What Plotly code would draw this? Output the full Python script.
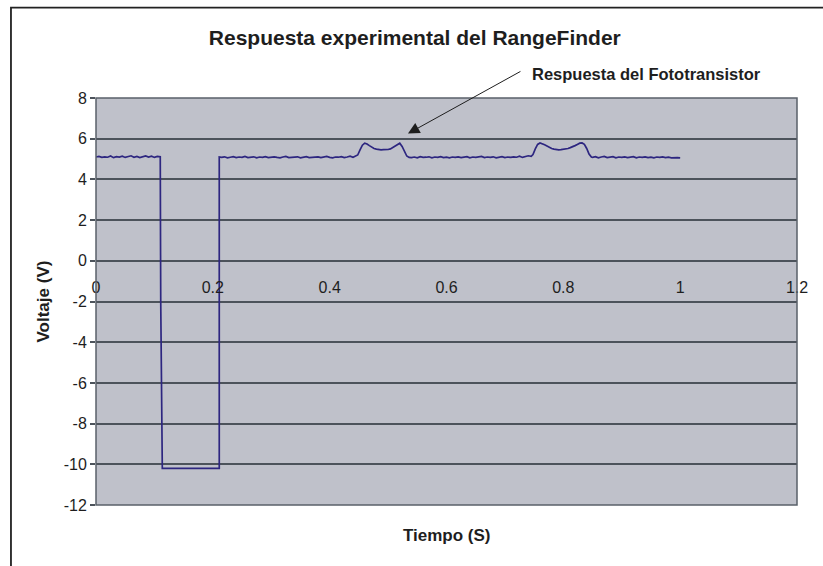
import plotly.graph_objects as go

# Sampled phototransistor output (time in s, voltage in V)
t_pre = [0.000, 0.005, 0.010, 0.015, 0.020, 0.025, 0.030, 0.035, 0.040, 0.045,
         0.050, 0.055, 0.060, 0.065, 0.070, 0.075, 0.080, 0.085, 0.090, 0.095,
         0.100, 0.105, 0.110]
v_pre = [5.10, 5.13, 5.08, 5.11, 5.09, 5.15, 5.07, 5.12, 5.10, 5.14,
         5.08, 5.11, 5.16, 5.09, 5.13, 5.07, 5.12, 5.15, 5.10, 5.14,
         5.08, 5.13, 5.11]

t_pulse = [0.1108, 0.1135, 0.2110]
v_pulse = [-2.0, -10.2, -10.2]

t_mid = [0.2110,
         0.215, 0.220, 0.225, 0.230, 0.235, 0.240, 0.245, 0.250, 0.255, 0.260,
         0.265, 0.270, 0.275, 0.280, 0.285, 0.290, 0.295, 0.300, 0.305, 0.310,
         0.315, 0.320, 0.325, 0.330, 0.335, 0.340, 0.345, 0.350, 0.355, 0.360,
         0.365, 0.370, 0.375, 0.380, 0.385, 0.390, 0.395, 0.400, 0.405, 0.410,
         0.415, 0.420, 0.425, 0.430, 0.435, 0.440, 0.445]
v_mid = [5.10,
         5.08, 5.11, 5.06, 5.09, 5.12, 5.07, 5.10, 5.08, 5.13, 5.07,
         5.09, 5.11, 5.06, 5.10, 5.08, 5.12, 5.07, 5.09, 5.11, 5.08,
         5.06, 5.10, 5.13, 5.07, 5.09, 5.08, 5.11, 5.06, 5.10, 5.12,
         5.07, 5.09, 5.08, 5.11, 5.07, 5.10, 5.13, 5.08, 5.06, 5.10,
         5.09, 5.12, 5.07, 5.10, 5.14, 5.09, 5.15]

t_bump1 = [0.448, 0.452, 0.456, 0.460, 0.464, 0.468, 0.472, 0.476, 0.480, 0.484,
           0.488, 0.492, 0.496, 0.500, 0.504, 0.508, 0.512, 0.516, 0.520, 0.524,
           0.528, 0.532, 0.536]
v_bump1 = [5.20, 5.45, 5.68, 5.78, 5.74, 5.66, 5.58, 5.52, 5.49, 5.46,
           5.45, 5.46, 5.45, 5.47, 5.50, 5.56, 5.64, 5.72, 5.78, 5.62,
           5.38, 5.15, 5.08]

t_base2 = [0.540, 0.545, 0.550, 0.555, 0.560, 0.565, 0.570, 0.575, 0.580, 0.585,
           0.590, 0.595, 0.600, 0.605, 0.610, 0.615, 0.620, 0.625, 0.630, 0.635,
           0.640, 0.645, 0.650, 0.655, 0.660, 0.665, 0.670, 0.675, 0.680, 0.685,
           0.690, 0.695, 0.700, 0.705, 0.710, 0.715, 0.720, 0.725, 0.730, 0.735,
           0.740, 0.745]
v_base2 = [5.07, 5.10, 5.06, 5.12, 5.08, 5.09, 5.11, 5.06, 5.10, 5.08,
           5.12, 5.07, 5.09, 5.06, 5.10, 5.08, 5.11, 5.07, 5.09, 5.12,
           5.06, 5.10, 5.08, 5.09, 5.13, 5.07, 5.10, 5.08, 5.11, 5.06,
           5.09, 5.12, 5.07, 5.10, 5.08, 5.11, 5.09, 5.14, 5.08, 5.12,
           5.16, 5.13]

t_bump2 = [0.748, 0.752, 0.756, 0.760, 0.764, 0.768, 0.772, 0.776, 0.780, 0.784,
           0.788, 0.792, 0.796, 0.800, 0.804, 0.808, 0.812, 0.816, 0.820, 0.824,
           0.828, 0.832, 0.836, 0.840, 0.844, 0.848]
v_bump2 = [5.22, 5.50, 5.72, 5.79, 5.76, 5.70, 5.64, 5.57, 5.52, 5.49,
           5.46, 5.45, 5.46, 5.47, 5.49, 5.52, 5.56, 5.60, 5.66, 5.72,
           5.78, 5.79, 5.72, 5.52, 5.25, 5.10]

t_base3 = [0.850, 0.855, 0.860, 0.865, 0.870, 0.875, 0.880, 0.885, 0.890, 0.895,
           0.900, 0.905, 0.910, 0.915, 0.920, 0.925, 0.930, 0.935, 0.940, 0.945,
           0.950, 0.955, 0.960, 0.965, 0.970, 0.975, 0.980, 0.985, 0.990, 0.995,
           1.000]
v_base3 = [5.08, 5.12, 5.06, 5.10, 5.13, 5.07, 5.09, 5.12, 5.06, 5.10,
           5.08, 5.11, 5.07, 5.09, 5.12, 5.06, 5.10, 5.08, 5.11, 5.07,
           5.09, 5.06, 5.10, 5.08, 5.11, 5.07, 5.09, 5.06, 5.08, 5.07,
           5.06]

x_ticks = [0, 0.2, 0.4, 0.6, 0.8, 1.0, 1.2]
x_tick_text = ["0", "0.2", "0.4", "0.6", "0.8", "1", "1.2"]
y_ticks = [-12, -10, -8, -6, -4, -2, 0, 2, 4, 6, 8]
y_tick_text = ["-12", "-10", "-8", "-6", "-4", "-2", "0", "2", "4", "6", "8"]

segments = [(t_pre, v_pre), (t_pulse, v_pulse), (t_mid, v_mid), (t_bump1, v_bump1),
            (t_base2, v_base2), (t_bump2, v_bump2), (t_base3, v_base3)]
time, volt = [], []
for ts, vs in segments:
    assert len(ts) == len(vs), (len(ts), len(vs))
    time += ts
    volt += vs

FONT = "Liberation Sans, Arial, sans-serif"
TXT = "#1e1e1e"

fig = go.Figure()
fig.add_trace(go.Scatter(x=time, y=volt, mode="lines",
                         line=dict(color="#2d2680", width=1.7),
                         hoverinfo="skip", showlegend=False))

fig.update_layout(
    width=823, height=566,
    margin=dict(l=96, r=26, t=98, b=61),
    paper_bgcolor="white",
    plot_bgcolor="#bfc1ca",
    font=dict(family=FONT, color=TXT, size=16),
    title=dict(text="<b>Respuesta experimental del RangeFinder</b>",
               x=0.504, xanchor="center", y=0.933, yanchor="middle",
               font=dict(family=FONT, size=21, color=TXT)),
    xaxis=dict(range=[0, 1.2], tickvals=x_ticks, ticktext=x_tick_text,
               anchor="free", position=0.6, showgrid=False, zeroline=False,
               showline=False, ticks="", ticklabelstandoff=15,
               tickfont=dict(family=FONT, size=16, color=TXT)),
    yaxis=dict(range=[-12, 8], tickvals=y_ticks, ticktext=y_tick_text,
               showgrid=True, gridcolor="#4c535b", gridwidth=1.6,
               zeroline=False, showline=False,
               ticks="outside", ticklen=5, tickcolor="#4c535b", tickwidth=1.5,
               tickfont=dict(family=FONT, size=16, color=TXT)),
    shapes=[
        # plot-area border
        dict(type="rect", xref="paper", yref="paper", x0=0, x1=1, y0=0, y1=1,
             line=dict(color="#59606a", width=1.5), layer="above"),
        # chart-area frame
        dict(type="rect", xref="paper", yref="paper", x0=-0.1213, x1=1.06,
             y0=-0.2, y1=1.2221, line=dict(color="#222222", width=1.8),
             layer="above"),
    ],
    annotations=[
        dict(text="<b>Voltaje (V)</b>", xref="paper", yref="paper",
             x=-0.0742, y=0.5, textangle=-90, showarrow=False,
             xanchor="center", yanchor="middle",
             font=dict(family=FONT, size=17, color=TXT)),
        dict(text="<b>Tiempo (S)</b>", xref="paper", yref="paper",
             x=0.5007, y=-0.076, showarrow=False,
             xanchor="center", yanchor="middle",
             font=dict(family=FONT, size=17, color=TXT)),
        dict(text="", x=0.534, y=6.25, xref="x", yref="y",
             showarrow=True, ax=114, ay=-63, arrowhead=2, arrowsize=2.3,
             arrowwidth=1, arrowcolor="#1e1e1e"),
        dict(text="<b>Respuesta del Fototransistor</b>", xref="paper",
             yref="paper", x=0.619, y=1.060, showarrow=False,
             xanchor="left", yanchor="middle",
             font=dict(family=FONT, size=16.5, color=TXT)),
    ],
)

fig.write_html("out.html")
